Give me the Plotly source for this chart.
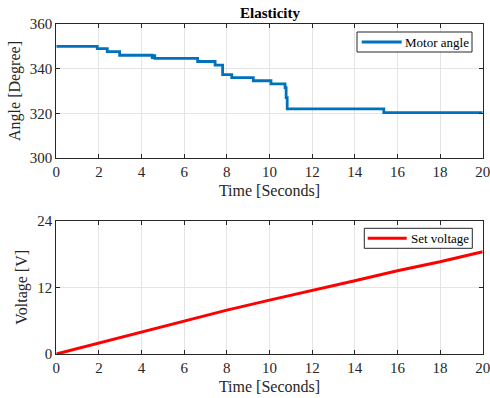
import plotly.graph_objects as go

# Motor angle record (step-wise encoder readings)
angle_time = [0, 1.92, 2.39, 2.97, 4.50, 4.55, 4.62, 6.63, 7.45, 7.80, 8.23,
              9.24, 10.07, 10.73, 10.78, 10.83, 15.36, 20]
angle_deg = [350, 349, 347.6, 346, 344.9, 345.8, 344.6, 343.2, 341.6, 337.3,
             336, 334.6, 333.2, 331.5, 327, 322, 320.3, 320.3]

# Set voltage ramp
volt_time = [0, 2, 4, 6, 8, 10, 12, 14, 16, 18, 20]
volt_v = [0, 2.0, 4.0, 5.9, 7.9, 9.7, 11.4, 13.2, 15.0, 16.6, 18.4]

x_ticks = list(range(0, 21, 2))
angle_ticks = [300, 320, 340, 360]
volt_ticks = [0, 12, 24]

W, H = 490, 398
FONT = "Liberation Serif"
INK = "#262626"
GRID = "#e4e4e4"
BLUE = "#0072BD"
RED = "#FF0000"

def px_x(p):
    return p / W

def px_y(p):
    return 1 - p / H

fig = go.Figure()
fig.add_trace(go.Scatter(x=angle_time, y=angle_deg, mode="lines",
                         line=dict(color=BLUE, width=2.8, shape="hv"),
                         name="Motor angle", xaxis="x", yaxis="y"))
fig.add_trace(go.Scatter(x=volt_time, y=volt_v, mode="lines",
                         line=dict(color=RED, width=3),
                         name="Set voltage", xaxis="x2", yaxis="y2"))

axis_common = dict(showline=True, linecolor=INK, linewidth=1, mirror="allticks",
                   ticks="inside", ticklen=4, tickcolor=INK,
                   showgrid=True, gridcolor=GRID, gridwidth=1, zeroline=False,
                   tickfont=dict(family=FONT, size=15, color=INK),
                   ticklabeloverflow="allow",
                   automargin=False)

title_font = dict(family=FONT, size=16, color=INK)
dom_x = [px_x(56.3), px_x(482.7)]
x_range = [0, 20]


def boxed_key(x0, x1, y0, y1, lx0, lx1, tx, label, color, width):
    """Legend-style key box drawn in paper coordinates (pixel inputs)."""
    ym = (y0 + y1) / 2
    fig.add_shape(type="rect", xref="paper", yref="paper",
                  x0=px_x(x0), x1=px_x(x1), y0=px_y(y1), y1=px_y(y0),
                  line=dict(color=INK, width=1), fillcolor="white", layer="above")
    fig.add_shape(type="line", xref="paper", yref="paper",
                  x0=px_x(lx0), x1=px_x(lx1), y0=px_y(ym), y1=px_y(ym),
                  line=dict(color=color, width=width), layer="above")
    fig.add_annotation(xref="paper", yref="paper", x=px_x(tx), y=px_y(ym),
                       xanchor="left", yanchor="middle", showarrow=False,
                       text=label, font=dict(family=FONT, size=13, color="black"))


fig.update_layout(
    width=W, height=H,
    margin=dict(l=0, r=0, t=0, b=0),
    paper_bgcolor="white", plot_bgcolor="white",
    font=dict(family=FONT, color=INK),
    showlegend=False,
    title=dict(text="<b>Elasticity</b>", x=px_x(270), xanchor="center",
               y=px_y(13), yanchor="middle",
               font=dict(family=FONT, size=15, color="black")),
    xaxis=dict(domain=dom_x, range=x_range, tickvals=x_ticks, anchor="y",
               title=dict(text="Time [Seconds]", standoff=5, font=title_font),
               **axis_common),
    yaxis=dict(domain=[px_y(158), px_y(24)], range=[300, 360],
               tickvals=angle_ticks, anchor="x",
               title=dict(text="Angle [Degree]", standoff=5, font=title_font),
               **axis_common),
    xaxis2=dict(domain=dom_x, range=x_range, tickvals=x_ticks, anchor="y2",
                title=dict(text="Time [Seconds]", standoff=5, font=title_font),
                **axis_common),
    yaxis2=dict(domain=[px_y(354), px_y(220.7)], range=[0, 24],
                tickvals=volt_ticks, anchor="x2",
                title=dict(text="Voltage [V]", standoff=5, font=title_font),
                **axis_common),
)

boxed_key(357, 472, 32, 52, 361.7, 401.7, 403, "Motor angle", BLUE, 2.8)
boxed_key(364.3, 472.3, 228.3, 248.3, 367.7, 406.7, 408.5, "Set voltage", RED, 3)

fig.write_html("out.html")
